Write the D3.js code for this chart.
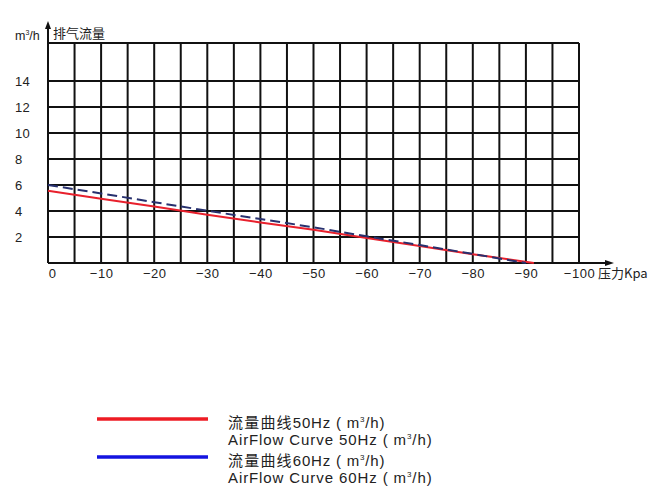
<!DOCTYPE html>
<html><head><meta charset="utf-8">
<script src="https://cdn.jsdelivr.net/npm/d3@7"></script>
<style>
body{margin:0;background:#fff;}
text{font-family:"Liberation Sans",Arial,sans-serif;fill:#222;}
</style></head>
<body><svg id="c" width="650" height="500"></svg>
<script>
const xTicks = [0,-10,-20,-30,-40,-50,-60,-70,-80,-90,-100];
const xTickLabels = ["0","\u221210","\u221220","\u221230","\u221240","\u221250","\u221260","\u221270","\u221280","\u221290","\u2212100"];
const yTicks = [2,4,6,8,10,12,14];
const pressure50 = [0,-10,-20,-30,-40,-50,-60,-70,-80,-91.5];
const flow50     = [5.55,4.95,4.35,3.72,3.12,2.55,1.92,1.3,0.68,0];
const pressure60 = [0,-10,-20,-30,-40,-50,-60,-70,-80,-90];
const flow60     = [6.0,5.35,4.68,4.02,3.38,2.75,2.05,1.38,0.7,0];
const legendCJK   = ["流量曲线","流量曲线"];
const legendLabels = [
  ["50Hz ( m³/h)","AirFlow Curve 50Hz ( m³/h)"],
  ["60Hz ( m³/h)","AirFlow Curve 60Hz ( m³/h)"]
];

const svg = d3.select("#c");
const L=48, R=579, T=43, B=263;
const x = d3.scaleLinear().domain([0,-100]).range([L,R]);
const y = d3.scaleLinear().domain([0,14]).range([B,81]);

// grid
const g = svg.append("g").attr("stroke","#111").attr("stroke-width",2);
g.selectAll("line.v").data(d3.range(0,-101,-5)).join("line")
  .attr("x1",d=>x(d)).attr("x2",d=>x(d)).attr("y1",T).attr("y2",B);
g.selectAll("line.h").data(yTicks).join("line")
  .attr("x1",L).attr("x2",R).attr("y1",d=>y(d)).attr("y2",d=>y(d));
g.append("line").attr("x1",L).attr("x2",R).attr("y1",T).attr("y2",T);
// axes with arrows
g.append("line").attr("x1",L).attr("x2",608).attr("y1",B).attr("y2",B);
g.append("line").attr("x1",L).attr("x2",L).attr("y1",B).attr("y2",27);
svg.append("path").attr("d",`M614,${B} L605,${B-3} L605,${B+3} Z`).attr("fill","#111");
svg.append("path").attr("d",`M${L},21 L${L-3},29 L${L+3},29 Z`).attr("fill","#111");

// x tick labels
const xa = svg.append("g").attr("transform",`translate(0,${B+3})`)
  .call(d3.axisBottom(x).tickValues(xTicks).tickSize(0).tickFormat((d,i)=>xTickLabels[i]));
xa.select(".domain").remove();
xa.selectAll("text").attr("font-size",13).attr("fill","#222").attr("letter-spacing",0.5)
  .style("font-family","'Liberation Sans',Arial,sans-serif")
  .attr("dx",(d)=>d===0?4:0);

// y tick labels
const ya = svg.append("g").attr("transform",`translate(15,0)`)
  .call(d3.axisLeft(y).tickValues(yTicks).tickSize(0));
ya.select(".domain").remove();
ya.selectAll("text").attr("font-size",13).attr("fill","#222").attr("x",0)
  .attr("text-anchor","start").attr("letter-spacing",0.3)
  .style("font-family","'Liberation Sans',Arial,sans-serif");

// axis titles
const t1 = svg.append("text").attr("x",15).attr("y",40).attr("font-size",12.5);
t1.append("tspan").text("m");
t1.append("tspan").attr("font-size",7).attr("dy",-5).text("3");
t1.append("tspan").attr("dy",5).text("/h");
svg.append("text").attr("x",53).attr("y",38).attr("font-size",13)
  .style("font-family","'Noto Sans CJK SC',sans-serif").text("排气流量");
svg.append("text").attr("x",598).attr("y",278).attr("font-size",13)
  .style("font-family","'Noto Sans CJK SC','Liberation Sans',sans-serif").text("压力Kpa");

// curves
const line = d3.line().x(d=>x(d[0])).y(d=>y(d[1]));
svg.append("path").datum(pressure50.map((p,i)=>[p,flow50[i]]))
  .attr("d",line).attr("fill","none").attr("stroke","#e8202c").attr("stroke-width",2);
svg.append("path").datum(pressure60.map((p,i)=>[p,flow60[i]]))
  .attr("d",line).attr("fill","none").attr("stroke","#27306e").attr("stroke-width",2)
  .attr("stroke-dasharray","10,5");

// legend
const legColors = ["#ee1c24","#1414e0"];
const legY = [419,457];
function addLabel(t, s){
  const parts = s.split("³");
  t.append("tspan").text(parts[0]);
  t.append("tspan").attr("font-size",8).attr("dy",-6).text("3");
  t.append("tspan").attr("dy",6).text(parts[1]);
}
legendLabels.forEach((lab,i)=>{
  svg.append("line").attr("x1",97).attr("x2",208).attr("y1",legY[i]).attr("y2",legY[i])
    .attr("stroke",legColors[i]).attr("stroke-width",3.5);
  const t0 = svg.append("text").attr("x",228).attr("y",legY[i]+9).attr("font-size",15)
    .attr("letter-spacing",0.8)
    .style("font-family","'Liberation Sans','Noto Sans CJK SC',sans-serif");
  t0.append("tspan").attr("letter-spacing",1.2)
    .style("font-family","'Noto Sans CJK SC',sans-serif").text(legendCJK[i]);
  addLabel(t0, lab[0]);
  const t1 = svg.append("text").attr("x",228).attr("y",legY[i]+26).attr("font-size",15)
    .attr("letter-spacing",0.9)
    .style("font-family","'Liberation Sans','Noto Sans CJK SC',sans-serif");
  addLabel(t1, lab[1]);
});
</script></body></html>
